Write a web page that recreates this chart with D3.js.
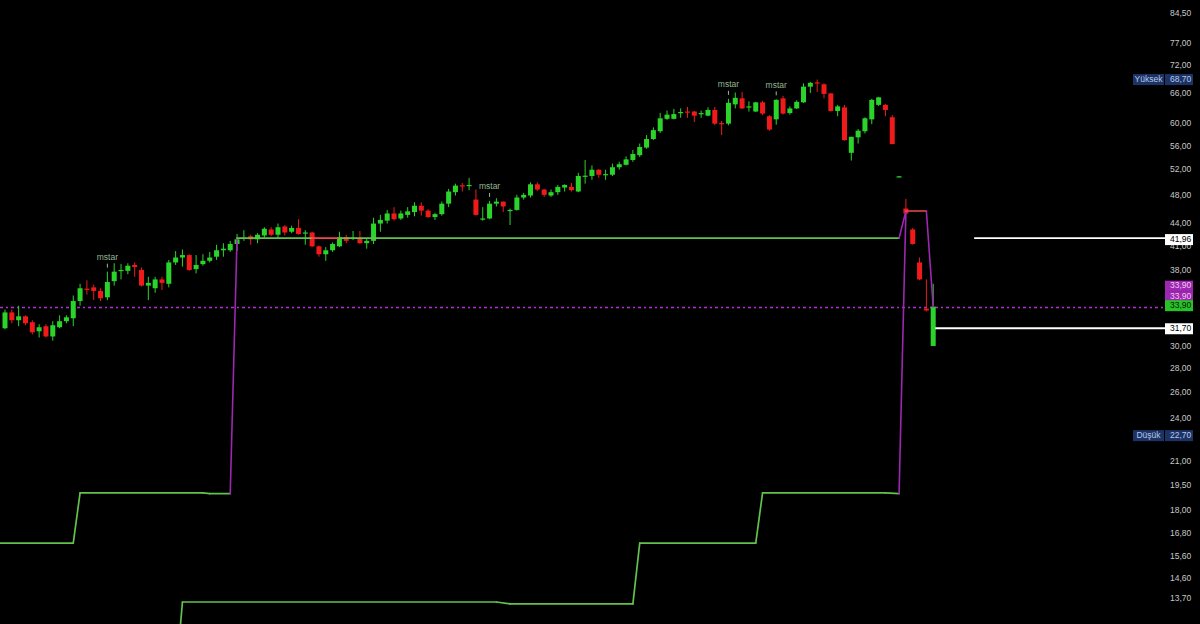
<!DOCTYPE html>
<html><head><meta charset="utf-8">
<script src="https://cdn.jsdelivr.net/npm/d3@7"></script>
<style>html,body{margin:0;padding:0;background:#000;overflow:hidden}</style>
</head><body><svg id="c" width="1200" height="624"></svg>
<script>
// ---------- DATA ----------
const open  = [31.7,33.3,32.5,32.9,32.3,31.4,31.9,30.9,31.8,32.4,32.7,34.5,35.85,36.0,35.6,34.9,36.7,37.9,37.9,38.6,38.0,36.2,35.9,36.9,36.4,38.9,39.5,39.8,38.1,38.7,39.1,39.6,40.4,40.4,41.2,41.9,42.2,41.8,42.3,43.1,42.4,43.5,42.8,43.3,42.6,42.7,40.9,39.9,40.4,40.9,42.1,41.9,42.0,41.3,41.6,43.9,44.3,45.3,44.6,45.1,45.5,46.4,45.7,44.8,45.2,46.7,48.4,49.45,49.4,47.3,44.5,44.6,46.7,47.0,45.7,45.8,47.6,47.9,49.6,48.8,47.9,48.4,49.1,49.2,48.5,50.85,50.9,51.9,51.1,51.1,52.3,52.7,53.5,54.3,55.6,57.1,58.5,60.8,60.8,62.0,62.2,62.2,61.8,61.4,62.5,60.0,59.9,63.6,64.8,63.1,62.2,64.0,61.3,60.7,64.8,61.9,62.8,64.0,67.2,68.1,67.7,65.8,62.3,63.0,54.7,57.4,58.5,60.7,63.5,63.5,61.1,50.75,46.0,43.1,38.9,33.7,30.0];
const high  = [33.6,33.6,34.0,33.0,32.5,32.1,32.1,32.4,33.0,33.0,35.1,36.4,36.8,36.3,35.9,37.8,38.8,38.7,38.8,38.9,38.3,37.2,37.2,37.2,39.2,40.3,40.5,39.9,39.8,39.9,40.2,41.1,41.3,41.6,42.5,43.0,42.4,42.6,43.4,43.4,43.9,43.7,43.6,44.5,43.0,42.8,41.0,40.8,41.4,42.8,42.4,42.9,42.9,41.9,44.7,45.1,45.8,46.2,45.7,46.2,46.9,46.9,45.9,45.4,47.0,48.9,49.7,49.8,50.6,48.8,46.2,47.1,47.5,47.0,46.0,48.0,48.3,49.9,49.9,48.9,48.8,49.5,49.6,49.8,51.4,53.5,52.6,52.0,51.9,52.9,53.2,54.1,55.2,56.3,57.8,59.2,61.9,62.4,62.7,62.8,63.1,62.3,62.4,63.0,63.1,60.4,64.7,66.0,66.1,64.2,64.1,64.3,61.5,64.6,65.3,63.2,64.4,67.9,68.2,68.7,67.9,65.9,63.5,63.5,57.5,58.9,61.1,64.7,65.1,63.7,61.5,50.9,47.4,43.3,39.5,36.9,36.4];
const low   = [31.6,32.2,31.9,32.0,31.1,30.8,30.8,30.5,31.7,32.2,31.9,34.0,35.2,34.6,34.5,34.6,36.2,36.9,37.5,37.2,36.1,34.6,35.4,35.7,36.0,38.6,38.4,37.9,37.6,38.5,38.9,39.2,39.6,40.2,40.3,41.6,41.1,41.3,42.0,42.2,41.9,42.3,42.6,42.4,41.1,40.8,39.6,39.1,40.2,40.8,41.3,41.7,41.2,40.6,41.2,42.8,43.9,44.3,44.4,44.7,44.9,45.0,44.7,44.4,45.0,46.2,47.9,48.5,48.7,45.0,44.3,44.5,46.3,45.5,43.7,45.7,47.3,47.6,48.6,47.7,47.7,48.0,48.5,48.5,48.4,49.7,50.3,50.6,50.3,50.9,51.9,52.6,53.2,54.0,55.4,56.9,58.2,60.6,60.7,61.0,61.0,60.2,61.0,61.3,59.6,57.8,59.6,62.8,62.7,62.2,62.1,61.5,58.6,59.7,61.6,61.6,62.7,63.9,65.9,66.1,64.8,62.2,61.3,56.8,53.4,56.3,58.1,59.8,63.3,61.3,56.2,50.7,45.1,41.1,36.8,33.4,30.0];
const close = [33.3,32.5,32.9,32.2,31.3,31.8,30.9,32.0,32.4,32.8,34.5,35.9,35.75,35.6,34.8,36.6,37.8,38.0,38.5,38.35,36.2,36.5,36.9,36.5,38.9,39.5,39.8,38.0,38.6,39.1,39.5,40.4,40.6,41.2,41.8,42.0,41.8,42.4,43.2,42.4,43.4,42.7,43.3,42.5,42.7,40.9,39.9,40.4,41.2,42.1,41.6,42.0,41.3,41.6,43.9,44.4,45.3,44.5,45.3,45.6,46.4,45.7,44.8,45.2,46.7,48.5,49.4,49.35,49.5,45.1,44.6,46.7,47.0,46.3,45.8,47.6,48.0,49.6,48.8,48.0,48.4,49.2,49.5,48.7,50.9,50.95,51.9,51.1,51.2,52.3,52.8,53.6,54.5,55.7,57.1,58.7,60.9,61.6,61.7,62.1,62.1,61.4,61.9,62.5,59.9,59.8,63.9,64.9,62.8,63.2,64.0,61.8,58.8,64.5,61.8,62.8,64.1,67.2,68.0,68.0,65.7,62.3,63.2,56.9,57.5,58.6,60.9,64.5,65.0,62.5,56.2,50.85,45.3,41.2,36.9,33.5,33.9];

// pattern labels (bar index)
const mstarBars = [15, 71, 106, 113];
const mstarText = "mstar";

// trailing level line A (bar index, level, state of the segment that starts there)
const lineAIdx   = [-1, 10, 11, 29, 30, 33, 34, 45, 49, 131, 132, 135, 136];
const lineAVal   = [16.25, 16.25, 19.0, 19.0, 18.95, 18.95, 41.96, 41.96, 41.96, 41.96, 45.65, 45.65, 33.9];
const lineAState = ["up","up","up","up","up","shift","up","down","up","shift","down","shift"];
// trailing level line C
const lineCIdx   = [25, 26, 72, 74, 92, 93, 110, 111, 129, 131, 132];
const lineCVal   = [10.6, 13.53, 13.53, 13.45, 13.45, 16.25, 16.25, 19.0, 19.0, 18.95, 45.65];
const lineCState = ["up","up","up","up","up","up","up","up","up","shift"];

// horizontal levels
const lastPrice = 33.9;
const levelValues = [41.96, 31.70];
const levelStartIdx = [142, 136.3];

// right-scale ticks
const tickValues = [84.5, 77, 72, 66, 60, 56, 52, 48, 44, 41, 38, 30, 28, 26, 24, 21, 19.5, 18, 16.8, 15.6, 14.6, 13.7];

// scale labels
const labelValues = [68.70, 22.70, 41.96, 33.90, 33.90, 33.90, 31.70];
const labelNames  = ["Yüksek", "Düşük", "", "", "", "", ""];

// ---------- STYLE ----------
const W = 1200, H = 624, plotRight = 1165;
const C = { up:"#2bd42b", down:"#f01a1a", lineUp:"#62c24e", lineDown:"#f04848", shift:"#9c27b0",
            axisText:"#c8c8c8", mstar:"#93b893" };
const stateColor = { up:C.lineUp, down:C.lineDown, shift:C.shift };
const labelStyle = [
  {bg:"#1c3363", fg:"#b4c8ef", dy:0},
  {bg:"#1c3363", fg:"#b4c8ef", dy:0},
  {bg:"#ffffff", fg:"#000000", dy:1.5},
  {bg:"#9c27b0", fg:"#f3c6f3", dy:-20.5},
  {bg:"#9c27b0", fg:"#f3c6f3", dy:-10},
  {bg:"#27c227", fg:"#062006", dy:-1},
  {bg:"#ffffff", fg:"#000000", dy:0.5}
];
const FONT = "'Liberation Sans', Arial, sans-serif";

const svg = d3.select("#c");
svg.append("rect").attr("width", W).attr("height", H).attr("fill", "#000");

const y = d3.scaleLog().domain([13.7, 84.5]).range([598, 13]);
const x = d3.scaleLinear().domain([0, 136]).range([5, 933.2]);
const fmt = d3.formatLocale({decimal:",", thousands:".", grouping:[3], currency:["",""]}).format(".2f");

svg.append("clipPath").attr("id","plot").append("rect").attr("x",0).attr("y",0).attr("width",plotRight).attr("height",H);
const plot = svg.append("g").attr("clip-path","url(#plot)");

// last price dotted line
plot.append("line").attr("x1",0).attr("x2",plotRight)
  .attr("y1", Math.round(y(lastPrice))+0.5).attr("y2", Math.round(y(lastPrice))+0.5)
  .attr("stroke", "#b032d0").attr("stroke-width",1.3).attr("stroke-dasharray","3,3,2,3");

// candles
const bars = d3.range(open.length).map(i => ({i, o:open[i], h:high[i], l:low[i], c:close[i]}));
const bodyW = 5;
const cg = plot.append("g");
bars.forEach(d => {
  const col = d.c >= d.o ? C.up : C.down;
  const cx = x(d.i);
  cg.append("line").attr("x1",cx).attr("x2",cx).attr("y1",y(d.h)).attr("y2",y(d.l))
    .attr("stroke",col).attr("stroke-width",1);
  const top = y(Math.max(d.o,d.c)), bot = y(Math.min(d.o,d.c));
  cg.append("rect").attr("x",cx-bodyW/2).attr("y",top).attr("width",bodyW)
    .attr("height",Math.max(1.2, bot-top)).attr("fill",col);
});

// trailing lines
function drawLine(idx, val, state) {
  const pts = idx.map((k,j) => ({i:k, v:val[j]}));
  const gen = d3.line().x(p => x(p.i)).y(p => y(p.v));
  for (let j = 0; j < pts.length-1; j++) {
    plot.append("path").attr("d", gen([pts[j], pts[j+1]]))
      .attr("fill","none").attr("stroke", stateColor[state[j]])
      .attr("stroke-width", state[j]==="shift" ? 1.6 : 1.7).attr("stroke-linecap","round");
  }
}
drawLine(lineCIdx, lineCVal, lineCState);
drawLine(lineAIdx, lineAVal, lineAState);

// horizontal levels (white)
levelValues.forEach((v,k) => {
  plot.append("line").attr("x1", x(levelStartIdx[k])).attr("x2", plotRight)
    .attr("y1", y(v)).attr("y2", y(v)).attr("stroke","#ffffff").attr("stroke-width",1.8);
});

// pattern labels
mstarBars.forEach(i => {
  const hy = y(high[i]);
  plot.append("line").attr("x1",x(i)).attr("x2",x(i)).attr("y1",hy-8).attr("y2",hy-4)
    .attr("stroke",C.mstar).attr("stroke-width",1);
  plot.append("text").attr("x",x(i)).attr("y",hy-14).attr("text-anchor","middle")
    .attr("dominant-baseline","middle").attr("fill",C.mstar)
    .style("font-family", FONT).style("font-size","8.5px").text(mstarText);
});

// right axis
const axis = d3.axisRight(y).tickValues(tickValues).tickFormat(fmt).tickSize(0).tickPadding(0);
const ag = svg.append("g").attr("transform","translate(1170,0)").call(axis);
ag.select(".domain").remove();
ag.selectAll("text").attr("fill", C.axisText).style("font-family", FONT).style("font-size","8.5px");

// scale labels
labelValues.forEach((v,k) => {
  const s = labelStyle[k];
  const cy = y(v) + s.dy;
  const g = svg.append("g");
  g.append("rect").attr("x",1165).attr("y",cy-5.5).attr("width",28).attr("height",11).attr("fill",s.bg);
  g.append("text").attr("x",1170).attr("y",cy).attr("dominant-baseline","middle").attr("fill",s.fg)
    .style("font-family",FONT).style("font-size","8.5px").text(fmt(v));
  if (labelNames[k]) {
    g.append("rect").attr("x",1133).attr("y",cy-5.5).attr("width",31).attr("height",11).attr("fill",s.bg);
    g.append("text").attr("x",1148.5).attr("y",cy).attr("text-anchor","middle").attr("dominant-baseline","middle")
      .attr("fill",s.fg).style("font-family",FONT).style("font-size","8.5px").text(labelNames[k]);
  }
});
</script></body></html>
